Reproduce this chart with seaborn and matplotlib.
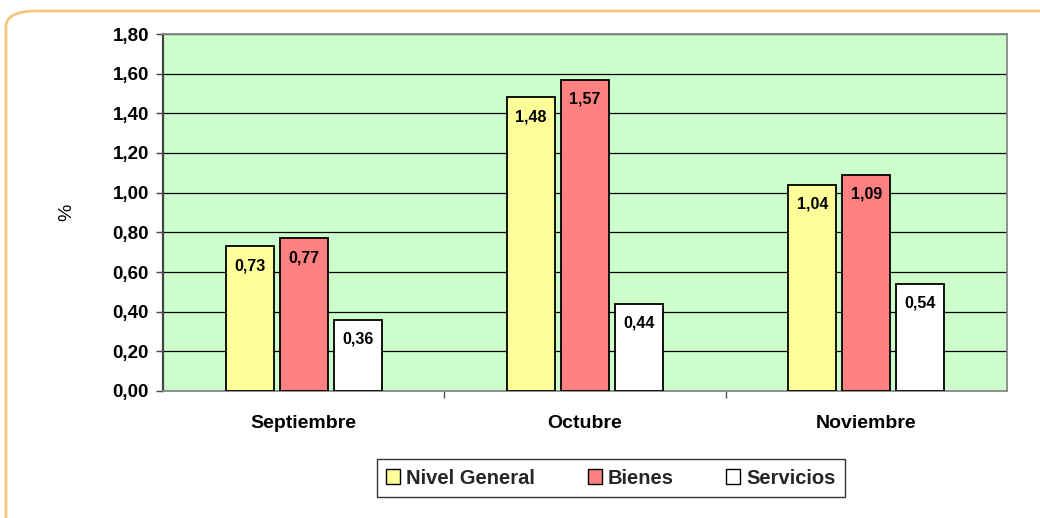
import numpy as np
import pandas as pd
import matplotlib.pyplot as plt
from matplotlib.patches import FancyBboxPatch
import seaborn as sns

# --- data ---
meses = ['Septiembre', 'Octubre', 'Noviembre']
series = ['Nivel General', 'Bienes', 'Servicios']
nivel_general = [0.73, 1.48, 1.04]
bienes = [0.77, 1.57, 1.09]
servicios = [0.36, 0.44, 0.54]
colores = ['#FFFF99', '#FF8080', '#FFFFFF']

df = pd.DataFrame({
    'mes': meses * 3,
    'serie': np.repeat(series, 3),
    'valor': nivel_general + bienes + servicios,
})

sns.set_style('white')
plt.rcParams['font.family'] = ['Liberation Sans', 'DejaVu Sans']

fig = plt.figure(figsize=(10.4, 5.18), dpi=100)
ax = fig.add_axes([163 / 1040, 1 - 391 / 518, (1007 - 163) / 1040, (391 - 34) / 518])

# orange rounded frame round the chart
frame = FancyBboxPatch((6 / 1040, -0.1), 1.2, 1 - 11 / 518 + 0.1,
                       boxstyle='round,pad=0,rounding_size=0.03',
                       transform=fig.transFigure, fill=False,
                       edgecolor='#F5C77E', linewidth=2, zorder=0)
fig.patches.append(frame)

sns.barplot(data=df, x='mes', y='valor', hue='serie', palette=colores,
            width=0.576, gap=0.11, edgecolor='black', linewidth=1.3,
            saturation=1, ax=ax, zorder=3)

ax.set_facecolor('#CCFFCC')
ax.set_ylim(0, 1.8)
ax.set_xlim(-0.5, 2.5)
yt = np.arange(0, 1.81, 0.2)
ax.set_yticks(yt)
ax.set_yticklabels([f'{v:.2f}'.replace('.', ',') for v in yt],
                   fontsize=13.5, fontweight='bold', color='black')
ax.yaxis.grid(True, color='black', linewidth=0.9, zorder=1)
ax.set_axisbelow(True)
ax.tick_params(axis='y', left=True, length=5, width=1, color='#444444', pad=5)
ax.tick_params(axis='x', bottom=False, labelsize=14, pad=14, labelcolor='black')
for lbl in ax.get_xticklabels():
    lbl.set_fontweight('bold')
ax.set_xticks([0.5, 1.5], minor=True)
ax.tick_params(axis='x', which='minor', bottom=True, length=5, width=1, color='#555555')

ax.set_xlabel('')
ax.set_ylabel('%', fontsize=14, color='black')
ax.yaxis.set_label_coords(-0.104, 0.5)

ax.spines['left'].set_color('#444444')
ax.spines['left'].set_linewidth(1.6)
for s in ['top', 'right', 'bottom']:
    ax.spines[s].set_color('#888888')
    ax.spines[s].set_linewidth(1.3)

# value labels inside the top of each bar
for cont in ax.containers:
    for bar in cont:
        h = bar.get_height()
        ax.annotate(f'{h:.2f}'.replace('.', ','),
                    (bar.get_x() + bar.get_width() / 2, h),
                    xytext=(0, -14), textcoords='offset points',
                    ha='center', va='center', fontsize=11.5,
                    fontweight='bold', color='black', zorder=5)

ax.legend_.remove()
handles = [plt.Rectangle((0, 0), 1, 1, facecolor=c, edgecolor='black', linewidth=1)
           for c in colores]
fig.legend(handles, series, loc='center', bbox_to_anchor=(611 / 1040, 1 - 478 / 518),
           ncol=3, frameon=True, fancybox=False, edgecolor='black',
           prop={'weight': 'bold', 'size': 14.5}, handlelength=0.7, handleheight=0.7,
           handletextpad=0.3, columnspacing=2.6, borderpad=0.45)

fig.savefig('out.png', dpi=100)
